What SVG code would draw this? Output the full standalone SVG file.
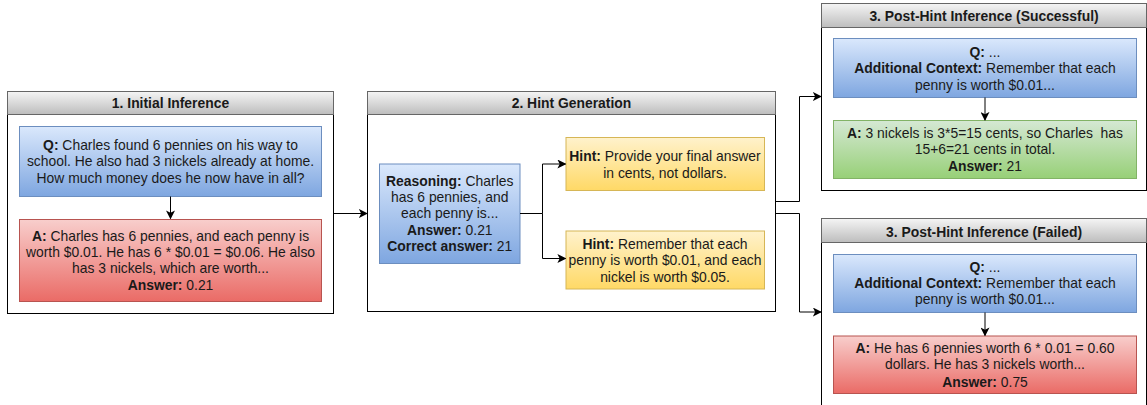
<svg xmlns="http://www.w3.org/2000/svg" width="1147" height="405" viewBox="0 0 1147 405">
<defs>
<linearGradient id="gHead" x1="0" y1="0" x2="0" y2="1"><stop offset="0" stop-color="#f5f5f5"/><stop offset="1" stop-color="#bdbdbd"/></linearGradient>
<linearGradient id="gBlue" x1="0" y1="0" x2="0" y2="1"><stop offset="0" stop-color="#dae8fc"/><stop offset="1" stop-color="#7ea6e0"/></linearGradient>
<linearGradient id="gRed" x1="0" y1="0" x2="0" y2="1"><stop offset="0" stop-color="#f8cecc"/><stop offset="1" stop-color="#ea6b66"/></linearGradient>
<linearGradient id="gGreen" x1="0" y1="0" x2="0" y2="1"><stop offset="0" stop-color="#d5e8d4"/><stop offset="1" stop-color="#97d077"/></linearGradient>
<linearGradient id="gYellow" x1="0" y1="0" x2="0" y2="1"><stop offset="0" stop-color="#fff2cc"/><stop offset="1" stop-color="#ffd966"/></linearGradient>
<marker id="arr" viewBox="0 0 10 10" refX="9" refY="5" markerWidth="9" markerHeight="9" markerUnits="userSpaceOnUse" orient="auto"><path d="M0,0 L10,5 L0,10 L2.5,5 Z" fill="#000"/></marker>
</defs>
<style>
text{font-family:"Liberation Sans",Arial,Helvetica,sans-serif;font-size:13.9px;fill:#1a1a1a;text-anchor:middle}
.b{font-weight:bold}
.title{font-weight:bold;font-size:13.9px}
.body{fill:#fff;stroke:#000;stroke-width:1}
.head{fill:url(#gHead);stroke:#666;stroke-width:1}
.blue{fill:url(#gBlue);stroke:#6c8ebf}
.red{fill:url(#gRed);stroke:#b85450}
.green{fill:url(#gGreen);stroke:#82b366}
.yellow{fill:url(#gYellow);stroke:#d6b656}
.edge{fill:none;stroke:#000;stroke-width:1}
</style>

<g id="c1">
<rect class="body" x="7.5" y="91.5" width="326" height="222"/>
<rect class="head" x="7.5" y="91.5" width="326" height="23"/>
<text class="title" x="170.5" y="108">1. Initial Inference</text>
</g>
<g id="c1-q">
<rect class="blue" x="19.5" y="126.5" width="302" height="70"/>
<text x="170.5" y="150"><tspan class="b">Q:</tspan> Charles found 6 pennies on his way to</text>
<text x="170.5" y="166">school. He also had 3 nickels already at home.</text>
<text x="170.5" y="182.5">How much money does he now have in all?</text>
</g>
<g id="c1-a">
<rect class="red" x="19.5" y="219.5" width="302" height="82"/>
<text x="170.5" y="240.5"><tspan class="b">A:</tspan> Charles has 6 pennies, and each penny is</text>
<text x="170.5" y="256.5">worth $0.01. He has 6 * $0.01 = $0.06. He also</text>
<text x="170.5" y="273">has 3 nickels, which are worth...</text>
<text x="170.5" y="289.5"><tspan class="b">Answer:</tspan> 0.21</text>
</g>

<g id="c2">
<rect class="body" x="367.5" y="91.5" width="408" height="220"/>
<rect class="head" x="367.5" y="91.5" width="408" height="23"/>
<text class="title" x="571.5" y="108">2. Hint Generation</text>
</g>
<g id="c2-r">
<rect class="blue" x="379.5" y="164" width="140.5" height="99.5"/>
<text x="449.75" y="185.5"><tspan class="b">Reasoning:</tspan> Charles</text>
<text x="449.75" y="201.5">has 6 pennies, and</text>
<text x="449.75" y="218">each penny is...</text>
<text x="449.75" y="234.5"><tspan class="b">Answer:</tspan> 0.21</text>
<text x="449.75" y="250.5"><tspan class="b">Correct answer:</tspan> 21</text>
</g>
<g id="c2-h1">
<rect class="yellow" x="566" y="137.5" width="198.5" height="53"/>
<text x="665" y="161"><tspan class="b">Hint:</tspan> Provide your final answer</text>
<text x="665" y="178">in cents, not dollars.</text>
</g>
<g id="c2-h2">
<rect class="yellow" x="566" y="231" width="198.5" height="58"/>
<text x="665" y="248.5"><tspan class="b">Hint:</tspan> Remember that each</text>
<text x="665" y="264.5">penny is worth $0.01, and each</text>
<text x="665" y="281.5">nickel is worth $0.05.</text>
</g>

<g id="c3s">
<rect class="body" x="821.5" y="3.5" width="325" height="187"/>
<rect class="head" x="821.5" y="3.5" width="325" height="24"/>
<text class="title" x="984" y="20.5">3. Post-Hint Inference (Successful)</text>
</g>
<g id="c3s-q">
<rect class="blue" x="833.5" y="38.5" width="303" height="59"/>
<text x="985" y="56.5"><tspan class="b">Q:</tspan> ...</text>
<text x="985" y="72.5"><tspan class="b">Additional Context:</tspan> Remember that each</text>
<text x="985" y="89.5">penny is worth $0.01...</text>
</g>
<g id="c3s-a">
<rect class="green" x="833.5" y="120.5" width="303" height="58"/>
<text x="985" y="137.5" xml:space="preserve"><tspan class="b">A:</tspan> 3 nickels is 3*5=15 cents, so Charles  has</text>
<text x="985" y="154">15+6=21 cents in total.</text>
<text x="985" y="170.5"><tspan class="b">Answer:</tspan> 21</text>
</g>

<g id="c3f">
<rect class="body" x="821.5" y="218.5" width="325" height="200"/>
<rect class="head" x="821.5" y="218.5" width="325" height="24"/>
<text class="title" x="984" y="236.5">3. Post-Hint Inference (Failed)</text>
</g>
<g id="c3f-q">
<rect class="blue" x="833.5" y="254.5" width="303" height="58"/>
<text x="985" y="272"><tspan class="b">Q:</tspan> ...</text>
<text x="985" y="287.5"><tspan class="b">Additional Context:</tspan> Remember that each</text>
<text x="985" y="304">penny is worth $0.01...</text>
</g>
<g id="c3f-a">
<rect class="red" x="833.5" y="336" width="303" height="57.5"/>
<text x="985" y="352.5"><tspan class="b">A:</tspan> He has 6 pennies worth 6 * 0.01 = 0.60</text>
<text x="985" y="369">dollars. He has 3 nickels worth...</text>
<text x="985" y="386.5"><tspan class="b">Answer:</tspan> 0.75</text>
</g>

<g id="connectors">
<path class="edge" d="M170.5,196.5 V218.5" marker-end="url(#arr)"/>
<path class="edge" d="M333.5,213.5 H367" marker-end="url(#arr)"/>
<path class="edge" d="M520,213.5 H542.5 V164 H565.5" marker-end="url(#arr)"/>
<path class="edge" d="M542.5,213.5 V258.5 H565.5" marker-end="url(#arr)"/>
<path class="edge" d="M775.5,201.5 H799.5 V96.5 H821" marker-end="url(#arr)"/>
<path class="edge" d="M775.5,213.5 H799.5 V312 H821" marker-end="url(#arr)"/>
<path class="edge" d="M985,97.5 V120" marker-end="url(#arr)"/>
<path class="edge" d="M985,312.5 V335.5" marker-end="url(#arr)"/>
</g>
</svg>
